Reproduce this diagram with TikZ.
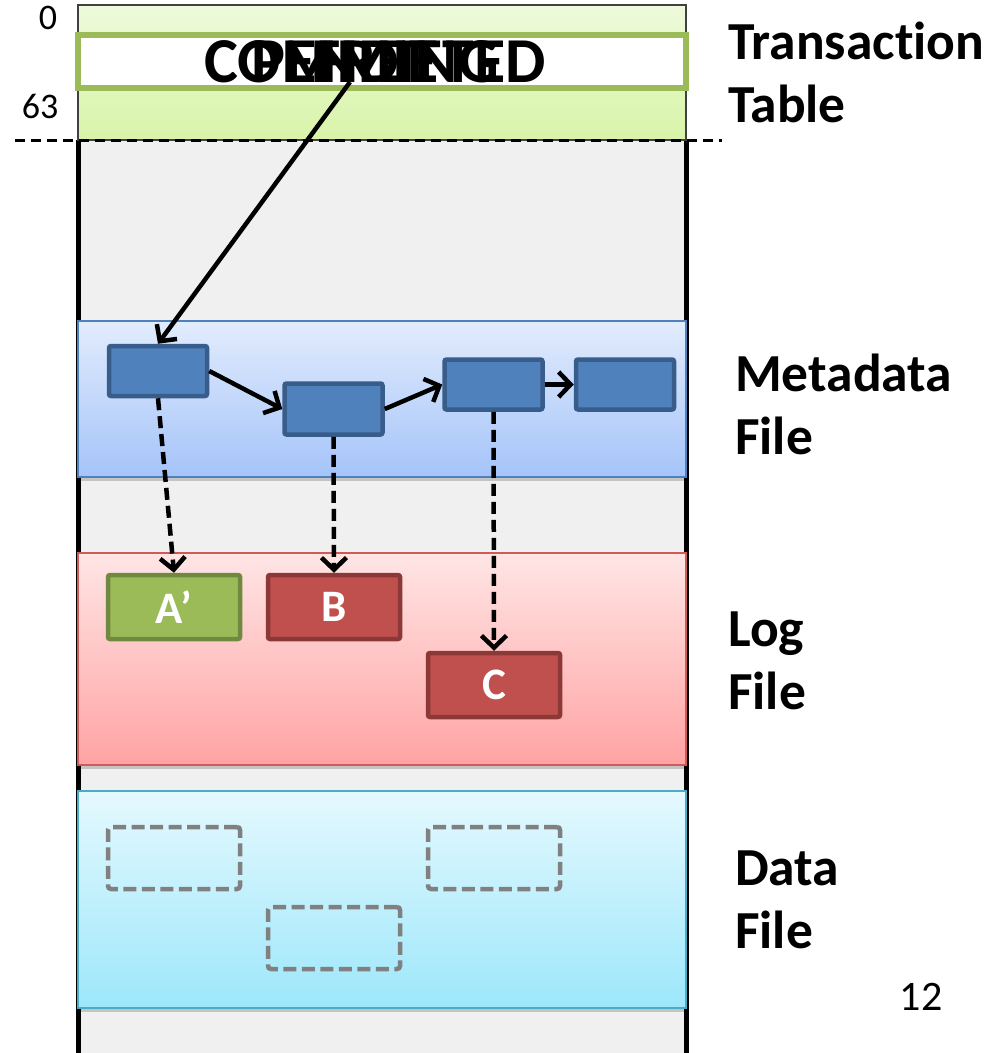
\documentclass[tikz,border=0pt]{standalone}
\usepackage{fontspec}
\setmainfont{Carlito}[Ligatures={NoCommon,NoRare,NoDiscretionary}]
\usetikzlibrary{arrows.meta,shadows}
\definecolor{colbg}{HTML}{F0F0F0}
\definecolor{ttop}{HTML}{EEFADC}
\definecolor{tbot}{HTML}{D8F4A8}
\definecolor{ggreen}{HTML}{9BBB59}
\definecolor{ggreend}{HTML}{71893F}
\definecolor{mtop}{HTML}{E2ECFD}
\definecolor{mbot}{HTML}{A5C4F9}
\definecolor{mborder}{HTML}{4F81BD}
\definecolor{bfill}{HTML}{4F81BD}
\definecolor{bborder}{HTML}{385D8A}
\definecolor{ltop}{HTML}{FFE5E5}
\definecolor{lbot}{HTML}{FFA3A3}
\definecolor{lborder}{HTML}{D05A57}
\definecolor{rfill}{HTML}{C0504D}
\definecolor{rborder}{HTML}{8C3836}
\definecolor{dtop}{HTML}{E5F9FE}
\definecolor{dbot}{HTML}{9DE7FB}
\definecolor{dborder}{HTML}{4BACC6}
\definecolor{dashgray}{HTML}{808080}
\tikzset{
  band/.style={rectangle, inner sep=0pt, line width=2pt, minimum width=608pt,
    drop shadow={shadow xshift=0pt, shadow yshift=-4pt, opacity=0.18, fill=black}},
  metaband/.style={band, draw=mborder, top color=mtop, bottom color=mbot, minimum height=156pt},
  logband/.style={band, draw=lborder, top color=ltop, bottom color=lbot, minimum height=212pt},
  databand/.style={band, draw=dborder, top color=dtop, bottom color=dbot, minimum height=217pt},
  blk/.style={rectangle, rounded corners=2pt, line width=4.5pt, inner sep=0pt,
    text=white, font=\bfseries\fontsize{45}{45}\selectfont},
  mblk/.style={blk, draw=bborder, fill=bfill, minimum width=98pt, minimum height=50pt},
  gblk/.style={blk, draw=ggreend, fill=ggreen, minimum width=132pt, minimum height=64pt},
  rblk/.style={blk, draw=rborder, fill=rfill, minimum width=132pt, minimum height=64pt},
  dblk/.style={rectangle, rounded corners=3pt, line width=4.5pt, draw=dashgray,
    dash pattern=on 13pt off 5.5pt, minimum width=132pt, minimum height=62pt, inner sep=0pt},
  lbl/.style={anchor=west, align=left, inner sep=0pt,
    font=\bfseries\fontsize{53.5}{63}\selectfont},
  numlbl/.style={inner sep=0pt, font=\fontsize{36}{36}\selectfont},
  statustext/.style={inner sep=0pt, font=\bfseries\fontsize{64}{64}\selectfont},
  arr/.style={line width=4.5pt, -{Straight Barb[length=12pt,width=25pt]}},
  darr/.style={arr, dash pattern=on 12pt off 6pt}
}
\begin{document}
\begin{tikzpicture}[x=1pt,y=-1pt]
\useasboundingbox (0,0) rectangle (995,1053);
% column background
\fill[colbg] (78,140) rectangle (686,1053);
\draw[line width=5pt] (78,140) -- (78,1053);
\draw[line width=5pt] (686,140) -- (686,1053);
% transaction table
\node[rectangle, inner sep=0pt, draw=black!75, line width=2pt, top color=ttop, bottom color=tbot,
  minimum width=608pt, minimum height=135pt] (tt) at (382,72.5) {};
\node[rectangle, inner sep=0pt, draw=ggreen, line width=5.5pt, fill=white,
  minimum width=608pt, minimum height=53pt] (status) at (382,61.5) {};
\node[statustext] (st1) at (375,62) {COMMITTED};
\node[statustext] (st2) at (375,62) {PENDING};
\node[statustext] (st3) at (375,62) {FREE};
\draw[line width=3pt, dash pattern=on 10pt off 6pt] (15,140) -- (722,140);
\node[numlbl] (n0) at (48,18) {0};
\node[numlbl] (n63) at (40,106) {63};
% bands
\node[metaband] (meta) at (382,398.5) {};
\node[logband] (log) at (382,659) {};
\node[databand] (data) at (382,899) {};
% metadata blocks
\node[mblk] (m1) at (158,371) {};
\node[mblk, minimum height=51pt] (m2) at (333.5,409) {};
\node[mblk] (m3) at (493.5,384.5) {};
\node[mblk] (m4) at (625,384.5) {};
% log blocks
\node[gblk] (a) at (174,607) {A’};
\node[rblk] (b) at (334,607) {B};
\node[rblk] (c) at (494,685) {C};
% data blocks
\node[dblk] (d1) at (174,858) {};
\node[dblk] (d2) at (494,858) {};
\node[dblk] (d3) at (334,938) {};
% arrows
\coordinate (ptr) at (350,82);
\draw[arr] (ptr) -- (m1.north);
\draw[arr] (m1.east) -- (m2.west);
\draw[arr] (m2.east) -- (m3.west);
\draw[arr] (m3.east) -- (m4.west);
\draw[darr] (m1.south) -- (a.north);
\draw[darr] (m2.south) -- (b.north);
\draw[darr] (m3.south) -- (c.north);
% labels
\node[lbl] (ltt) at (728,72) {Transaction\\Table};
\node[lbl] (lmeta) at (735,404) {Metadata\\File};
\node[lbl] (llog) at (728,661) {Log\\File};
\node[lbl] (ldata) at (735,900) {Data\\File};
\node[inner sep=0pt, font=\fontsize{42}{42}\selectfont] (page) at (921,997) {12};
\end{tikzpicture}
\end{document}
